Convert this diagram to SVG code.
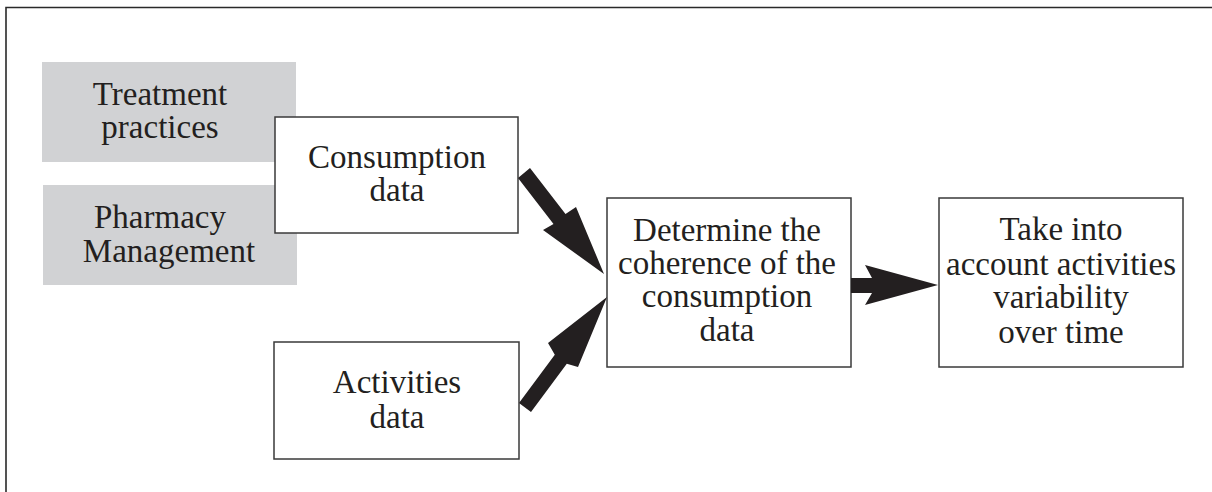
<svg xmlns="http://www.w3.org/2000/svg" width="1212" height="492" viewBox="0 0 1212 492">
<style>
.t{font-family:"Liberation Serif","Times New Roman",serif;font-size:33px;fill:#231f20;text-anchor:middle}
.box{fill:#fff;stroke:#3a3a3a;stroke-width:1.5}
.gray{fill:#d1d2d4}
.arr{fill:#231f20}
</style>
<rect width="1212" height="492" fill="#fff"/>
<path d="M6,492 V7.5 H1212" fill="none" stroke="#2a2a2a" stroke-width="1.6"/>
<g id="treatment">
<rect class="gray" x="42" y="62" width="254" height="100"/>
<text class="t"><tspan x="160" y="105">Treatment</tspan><tspan x="160" y="138">practices</tspan></text>
</g>
<g id="pharmacy">
<rect class="gray" x="43" y="185" width="254" height="100"/>
<text class="t"><tspan x="160" y="228">Pharmacy</tspan><tspan x="169" y="262">Management</tspan></text>
</g>
<g id="consumption">
<rect class="box" x="275" y="117" width="243" height="116"/>
<text class="t"><tspan x="397" y="168">Consumption</tspan><tspan x="397" y="201">data</tspan></text>
</g>
<g id="activities">
<rect class="box" x="274" y="342" width="245" height="117"/>
<text class="t"><tspan x="397" y="393">Activities</tspan><tspan x="397" y="428">data</tspan></text>
</g>
<g id="determine">
<rect class="box" x="607" y="198" width="244" height="169"/>
<text class="t"><tspan x="727" y="241">Determine the</tspan><tspan x="727" y="274">coherence of the</tspan><tspan x="727" y="307">consumption</tspan><tspan x="727" y="341">data</tspan></text>
</g>
<g id="take">
<rect class="box" x="939" y="198" width="244" height="169"/>
<text class="t"><tspan x="1061" y="240">Take into</tspan><tspan x="1061" y="275">account activities</tspan><tspan x="1061" y="308">variability</tspan><tspan x="1061" y="343">over time</tspan></text>
</g>
<g id="connectors">
<polygon class="arr" points="518,178 553.5,224 543,230 604,274 576,207 565.5,214 530,168"/>
<polygon class="arr" points="519,403 554.8,354.8 548,343 607,297 578,367 566.8,363.8 531,412"/>
<polygon class="arr" points="851,278 872,278 865,265 938,285 865,305 872,293 851,293"/>
</g>
</svg>
